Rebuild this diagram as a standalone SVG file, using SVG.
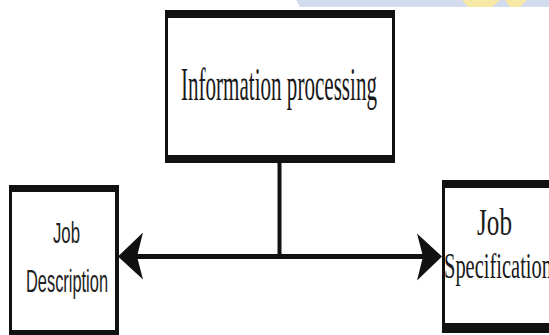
<svg xmlns="http://www.w3.org/2000/svg" width="549" height="335" viewBox="0 0 549 335">
  <style>
    .frame { fill: #111; }
    .face { fill: #fff; }
    .serif { font-family: "Liberation Serif", "Times New Roman", serif; fill: #1a1a1a; }
    .sans { font-family: "Liberation Sans", Arial, sans-serif; fill: #222; }
    .wire { stroke: #111; fill: none; }
  </style>
  <defs>
    <marker id="head" markerUnits="userSpaceOnUse" viewBox="0 -24 26 48" markerWidth="26" markerHeight="48" refX="23" refY="0" orient="auto-start-reverse">
      <path d="M26,0 L1,-23 L7,0 L1,24 Z" fill="#111"/>
    </marker>
  </defs>

  <rect width="549" height="335" fill="#fff"/>

  <!-- banner strip along the top edge -->
  <g id="banner">
    <path d="M296,0 L549,0 L549,7 L300,7 Z" fill="#d3dcef"/>
    <path d="M462,0 L500,0 L492,7 L468,7 Z" fill="#f6e9a6"/>
    <path d="M505,0 L527,0 L520,7 L510,7 Z" fill="#f6e9a6"/>
  </g>

  <g id="connectors">
    <path class="wire" d="M279.5,163 V256" stroke-width="4"/>
    <path class="wire" d="M121,256.5 H439" stroke-width="5" marker-start="url(#head)" marker-end="url(#head)"/>
  </g>

  <g id="information-processing">
    <rect class="frame" x="165" y="10" width="230" height="153"/>
    <rect class="face" x="168" y="18" width="224" height="137"/>
    <!-- condensed serif label -->
    <text class="serif" transform="translate(181,100) scale(0.458,1)" x="0" y="0" font-size="46">Information processing</text>
  </g>

  <g id="job-description">
    <rect class="frame" x="9" y="185" width="110" height="160"/>
    <rect class="face" x="12" y="192" width="103" height="138"/>
    <text class="sans" x="53" y="243" font-size="29" textLength="27" lengthAdjust="spacingAndGlyphs">Job</text>
    <text class="sans" x="26" y="292" font-size="32" textLength="82" lengthAdjust="spacingAndGlyphs">Description</text>
  </g>

  <g id="job-specification">
    <rect class="frame" x="442" y="180" width="120" height="153"/>
    <rect class="face" x="445" y="188" width="117" height="135"/>
    <text class="serif" x="477" y="235" font-size="37" textLength="35" lengthAdjust="spacingAndGlyphs">Job</text>
    <text class="serif" transform="translate(444,278) scale(0.585,1)" x="0" y="0" font-size="35">Specification</text>
  </g>
</svg>
